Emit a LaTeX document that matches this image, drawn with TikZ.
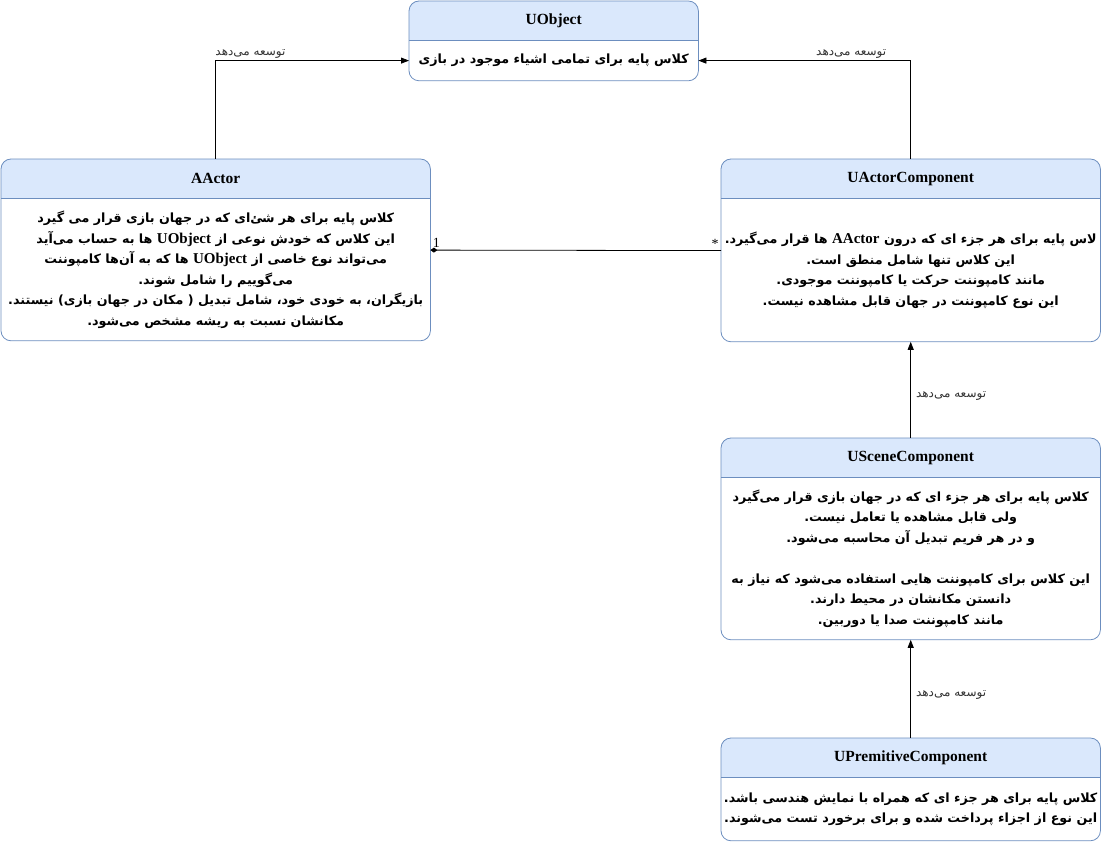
\documentclass[tikz,border=0pt]{standalone}
\usepackage{fontspec}
\setmainfont{Liberation Serif}
\newfontfamily\arabicfont[Script=Arabic]{DejaVu Sans}
\TeXXeTstate=1
\usetikzlibrary{arrows.meta, positioning}
\pgfdeclarelayer{bg}
\pgfsetlayers{bg,main}
\definecolor{headfill}{HTML}{DAE8FC}
\definecolor{headline}{HTML}{6C8EBF}
\newcommand{\rtl}[1]{\beginR #1\endR}
\newcommand{\ltr}[1]{\beginL{\rmfamily\bfseries\fontsize{15}{20.5}\selectfont #1}\endL}

\begin{document}
\begin{tikzpicture}[x=1pt, y=-1pt,
  head/.style={rectangle, minimum height=39pt, inner sep=0pt, anchor=north west, font=\bfseries\fontsize{15.5}{18}\selectfont},
  body/.style={rectangle, inner sep=0pt, align=center, font=\arabicfont\bfseries\fontsize{12.7}{20.5}\selectfont},
  ext/.style={-{Triangle[length=8pt,width=6pt]}, line width=0.8pt},
  assoc/.style={-{Diamond[length=7pt,width=5pt]}, line width=0.8pt},
  tag/.style={font=\arabicfont\fontsize{12}{14}\selectfont, text=black!80, inner sep=2pt},
  mult/.style={font=\fontsize{14}{16}\selectfont, inner sep=2pt}]

  \useasboundingbox (0,0) rectangle (1101,842);

  % classes
  \node[head, minimum width=289pt] (uobj) at (409,1) {UObject};
  \node[body, minimum width=289pt, minimum height=40pt, below=0pt of uobj] (uobj-b)
    {\rtl{کلاس پایه برای تمامی اشیاء موجود در بازی}};

  \node[head, minimum width=429pt] (aactor) at (1,159) {AActor};
  \node[body, minimum width=429pt, minimum height=142pt, below=0pt of aactor] (aactor-b)
    {\rtl{کلاس پایه برای هر شئ‌ای که در جهان بازی قرار می گیرد}\\
     \rtl{این کلاس که خودش نوعی از \ltr{UObject} ها به حساب می‌آید}\\
     \rtl{می‌تواند نوع خاصی از \ltr{UObject} ها که به آن‌ها کامپوننت}\\
     \rtl{می‌گوییم را شامل شوند.}\\
     \rtl{بازیگران، به خودی خود، شامل تبدیل ( مکان در جهان بازی) نیستند.}\\
     \rtl{مکانشان نسبت به ریشه مشخص می‌شود.}};

  \node[head, minimum width=379pt] (uac) at (721,159) {UActorComponent};
  \node[body, minimum width=379pt, minimum height=143pt, below=0pt of uac] (uac-b)
    {\rtl{لاس پایه برای هر جزء ای که درون \ltr{AActor} ها قرار می‌گیرد.}\\
     \rtl{این کلاس تنها شامل منطق است.}\\
     \rtl{مانند کامپوننت حرکت یا کامپوننت موجودی.}\\
     \rtl{این نوع کامپوننت در جهان قابل مشاهده نیست.}};

  \node[head, minimum width=379pt] (usc) at (721,438) {USceneComponent};
  \node[body, minimum width=379pt, minimum height=162pt, below=0pt of usc] (usc-b)
    {\rtl{کلاس پایه برای هر جزء ای که در جهان بازی قرار می‌گیرد}\\
     \rtl{ولی قابل مشاهده یا تعامل نیست.}\\
     \rtl{و در هر فریم تبدیل آن محاسبه می‌شود.}\\[20.5pt]
     \rtl{این کلاس برای کامپوننت هایی استفاده می‌شود که نیاز به}\\
     \rtl{دانستن مکانشان در محیط دارند.}\\
     \rtl{مانند کامپوننت صدا یا دوربین.}};

  \node[head, minimum width=379pt] (upc) at (721,738) {UPremitiveComponent};
  \node[body, minimum width=379pt, minimum height=63pt, below=0pt of upc] (upc-b)
    {\rtl{کلاس پایه برای هر جزء ای که همراه با نمایش هندسی باشد.}\\
     \rtl{این نوع از اجزاء پرداخت شده و برای برخورد تست می‌شوند.}};

  % frames
  \foreach \c in {uobj, aactor, uac, usc, upc} {
    \begin{pgfonlayer}{bg}
      \begin{scope}
        \clip[rounded corners=10pt] (\c.north west) rectangle (\c-b.south east);
        \fill[headfill] (\c.north west) rectangle (\c.south east);
      \end{scope}
    \end{pgfonlayer}
    \draw[headline, line width=0.8pt] (\c.south west) -- (\c.south east);
    \draw[headline, line width=0.8pt, rounded corners=10pt] (\c.north west) rectangle (\c-b.south east);
  }

  % relations
  \draw[ext] (aactor.north) |- (uobj-b.west) node[tag, pos=0.59, above] {\rtl{توسعه می‌دهد}};
  \draw[ext] (uac.north) |- (uobj-b.east) node[tag, pos=0.64, above] {\rtl{توسعه می‌دهد}};
  \draw[ext] (usc.north) -- (uac-b.south) node[tag, pos=0.44, right=3pt] {\rtl{توسعه می‌دهد}};
  \draw[ext] (upc.north) -- (usc-b.south) node[tag, pos=0.44, right=3pt] {\rtl{توسعه می‌دهد}};
  \draw[assoc] ([yshift=19.5pt]uac-b.west) -- ([yshift=19.5pt]aactor-b.east)
    node[mult, pos=0, above left] {*}
    node[mult, pos=1, above right] {1};

\end{tikzpicture}
\end{document}
